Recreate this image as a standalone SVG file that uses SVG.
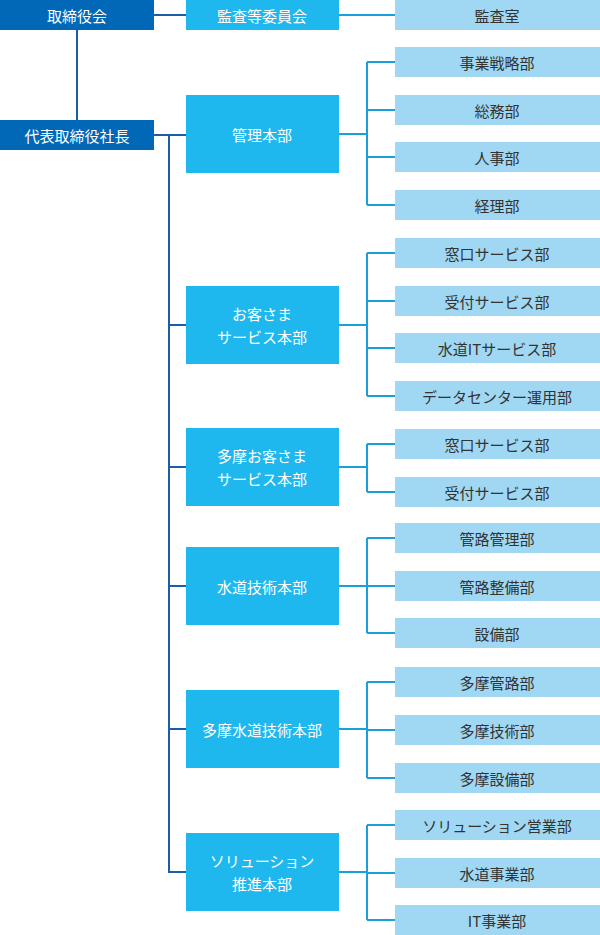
<svg xmlns="http://www.w3.org/2000/svg" width="600" height="935" viewBox="0 0 600 935">
<style>
text{font-family:"Noto Sans CJK JP","Noto Sans",sans-serif;font-size:15px;text-anchor:middle;dominant-baseline:central}
.d{fill:#0068b7}.h{fill:#1fb8ee}.s{fill:#a0d8f3}
.w{fill:#fff}.k{fill:#333}
.ld{stroke:#1a5ea8;stroke-width:2;fill:none}.ll{stroke:#18a0dc;stroke-width:2;fill:none}
</style>
<g id="connectors">
<path class="ld" d="M77 30V121M154 135H186M169 135V872H186M169 325H186M169 467H186M169 586H186M169 729H186"/>
<path class="ld" d="M154 15H186"/>
<path class="ll" d="M339 15H395"/>
<path class="ll" d="M339 134H367M367 62V205M367 62H395M367 110H395M367 157H395M367 205H395"/>
<path class="ll" d="M339 325H367M367 253V396M367 253H395M367 301H395M367 348H395M367 396H395"/>
<path class="ll" d="M339 467H367M367 444V492M367 444H395M367 492H395"/>
<path class="ll" d="M339 586H367M367 538V633M367 538H395M367 586H395M367 633H395"/>
<path class="ll" d="M339 729H367M367 682V778M367 682H395M367 730H395M367 778H395"/>
<path class="ll" d="M339 872H367M367 825V920M367 825H395M367 873H395M367 920H395"/>
</g>
<g id="n1"><rect class="d" x="0" y="0" width="154" height="30"/><text class="w" x="77" y="15">取締役会</text></g>
<g id="n2"><rect class="d" x="0" y="120" width="154" height="30"/><text class="w" x="77" y="135">代表取締役社長</text></g>
<g id="n3"><rect class="h" x="186" y="0" width="153" height="30"/><text class="w" x="262" y="15">監査等委員会</text></g>
<g id="n4"><rect class="s" x="395" y="0" width="205" height="30"/><text class="k" x="497" y="15">監査室</text></g>
<g id="h1"><rect class="h" x="186" y="95" width="153" height="78"/><text class="w" x="262" y="134">管理本部</text></g>
<g id="h2"><rect class="h" x="186" y="286" width="153" height="78"/><text class="w" x="262" y="313">お客さま</text><text class="w" x="262" y="336">サービス本部</text></g>
<g id="h3"><rect class="h" x="186" y="428" width="153" height="78"/><text class="w" x="262" y="455">多摩お客さま</text><text class="w" x="262" y="478">サービス本部</text></g>
<g id="h4"><rect class="h" x="186" y="547" width="153" height="78"/><text class="w" x="262" y="586">水道技術本部</text></g>
<g id="h5"><rect class="h" x="186" y="690" width="153" height="78"/><text class="w" x="262" y="729">多摩水道技術本部</text></g>
<g id="h6"><rect class="h" x="186" y="833" width="153" height="78"/><text class="w" x="262" y="860">ソリューション</text><text class="w" x="262" y="883">推進本部</text></g>
<g id="s1"><rect class="s" x="395" y="47" width="205" height="30"/><text class="k" x="497" y="62">事業戦略部</text></g>
<g id="s2"><rect class="s" x="395" y="95" width="205" height="30"/><text class="k" x="497" y="110">総務部</text></g>
<g id="s3"><rect class="s" x="395" y="142" width="205" height="30"/><text class="k" x="497" y="157">人事部</text></g>
<g id="s4"><rect class="s" x="395" y="190" width="205" height="30"/><text class="k" x="497" y="205">経理部</text></g>
<g id="s5"><rect class="s" x="395" y="238" width="205" height="30"/><text class="k" x="497" y="253">窓口サービス部</text></g>
<g id="s6"><rect class="s" x="395" y="286" width="205" height="30"/><text class="k" x="497" y="301">受付サービス部</text></g>
<g id="s7"><rect class="s" x="395" y="333" width="205" height="30"/><text class="k" x="497" y="348">水道ITサービス部</text></g>
<g id="s8"><rect class="s" x="395" y="381" width="205" height="30"/><text class="k" x="497" y="396">データセンター運用部</text></g>
<g id="s9"><rect class="s" x="395" y="429" width="205" height="30"/><text class="k" x="497" y="444">窓口サービス部</text></g>
<g id="s10"><rect class="s" x="395" y="477" width="205" height="30"/><text class="k" x="497" y="492">受付サービス部</text></g>
<g id="s11"><rect class="s" x="395" y="523" width="205" height="30"/><text class="k" x="497" y="538">管路管理部</text></g>
<g id="s12"><rect class="s" x="395" y="571" width="205" height="30"/><text class="k" x="497" y="586">管路整備部</text></g>
<g id="s13"><rect class="s" x="395" y="618" width="205" height="30"/><text class="k" x="497" y="633">設備部</text></g>
<g id="s14"><rect class="s" x="395" y="667" width="205" height="30"/><text class="k" x="497" y="682">多摩管路部</text></g>
<g id="s15"><rect class="s" x="395" y="715" width="205" height="30"/><text class="k" x="497" y="730">多摩技術部</text></g>
<g id="s16"><rect class="s" x="395" y="763" width="205" height="30"/><text class="k" x="497" y="778">多摩設備部</text></g>
<g id="s17"><rect class="s" x="395" y="810" width="205" height="30"/><text class="k" x="497" y="825">ソリューション営業部</text></g>
<g id="s18"><rect class="s" x="395" y="858" width="205" height="30"/><text class="k" x="497" y="873">水道事業部</text></g>
<g id="s19"><rect class="s" x="395" y="905" width="205" height="30"/><text class="k" x="497" y="920">IT事業部</text></g>
</svg>
